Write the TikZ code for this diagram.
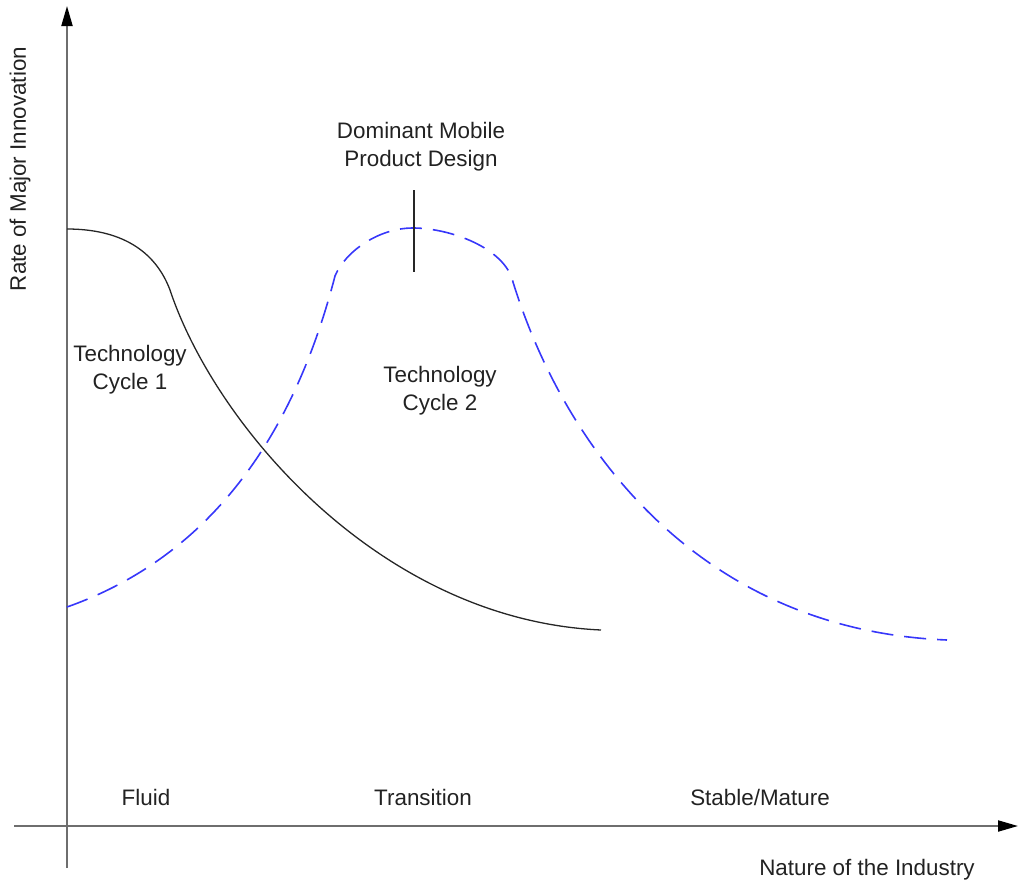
\documentclass[tikz,border=0pt]{standalone}
\usepackage{fontspec}
\setmainfont{Liberation Sans}
\usetikzlibrary{arrows.meta}
\definecolor{axisgray}{RGB}{110,110,110}
\definecolor{txt}{RGB}{34,34,34}
\definecolor{cyctwo}{RGB}{55,55,250}
\tikzset{
  axis/.style={draw=axisgray, line width=2pt,
    -{Triangle[length=20pt,width=11pt,color=black,fill=black]}},
  cycleone/.style={draw=black!85, line width=1.3pt},
  cycletwo/.style={draw=cyctwo, line width=1.6pt, dash pattern=on 22pt off 11pt},
  lbl/.style={text=txt, font=\fontsize{22.4}{28}\selectfont, align=center, inner sep=0pt},
}
\begin{document}
\begin{tikzpicture}[x=1pt,y=-1pt]
\useasboundingbox (0,0) rectangle (1018,881);
% axes
\coordinate (yb) at (67,868);
\coordinate (yt) at (67,6);
\coordinate (xl) at (14,826);
\coordinate (xr) at (1018,826);
\draw[axis] (yb) -- (yt);
\draw[axis] (xl) -- (xr);
% technology cycle 1
\coordinate (a0) at (67,229);
\coordinate (a1) at (170,290);
\coordinate (a2) at (601,630);
\draw[cycleone] (a0) .. controls (120,229) and (155,250) .. (a1)
  .. controls (215,425) and (380,620) .. (a2);
% technology cycle 2
\coordinate (b0) at (67,607);
\coordinate (b1) at (335,276);
\coordinate (b2) at (413,228);
\coordinate (b3) at (513,282);
\coordinate (b4) at (947,640);
\draw[cycletwo] (b0) .. controls (200,560) and (290,450) .. (b1)
  .. controls (345,252) and (378,228) .. (b2)
  .. controls (450,228) and (505,248) .. (b3)
  .. controls (565,450) and (700,630) .. (b4);
% dominant design marker
\coordinate (m0) at (414,190);
\coordinate (m1) at (414,272);
\draw[black!85, line width=1.3pt] (m0) -- (m1);
% labels
\node[lbl] (dom) at (421,147) {Dominant Mobile\\Product Design};
\node[lbl] (c1) at (130,370) {Technology\\Cycle 1};
\node[lbl] (c2) at (440,391) {Technology\\Cycle 2};
\node[lbl] (fl) at (146,797) {Fluid};
\node[lbl] (tr) at (423,797) {Transition};
\node[lbl] (sm) at (760,797) {Stable/Mature};
\node[lbl] (nat) at (867,870) {Nature of the Industry};
\node[lbl, rotate=90] (rate) at (20,169) {Rate of Major Innovation};
\end{tikzpicture}
\end{document}
